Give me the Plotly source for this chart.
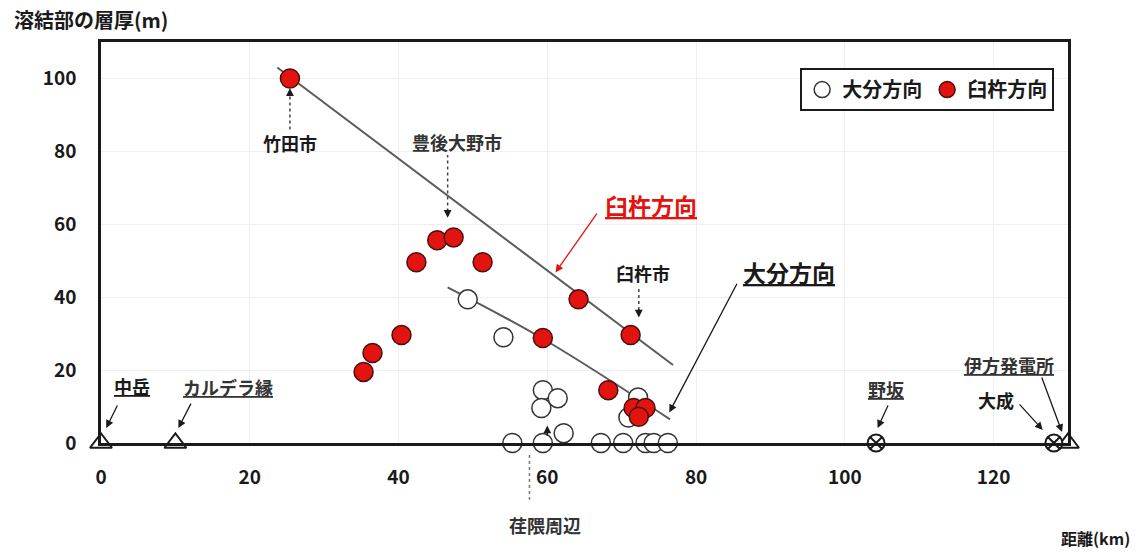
import plotly.graph_objects as go

# 大分方向 (open circles): distance from 中岳 (km) and welded-zone thickness (m)
oita_km = [49.3, 54.1, 59.4, 61.4, 59.2, 62.2, 72.2, 70.9, 55.3, 59.4, 67.2, 70.2, 73.2, 74.3, 76.2]
oita_m = [39.4, 29.0, 14.5, 12.3, 9.6, 2.7, 12.5, 7.0, 0, 0, 0, 0, 0, 0, 0]

# 臼杵方向 (red circles)
usuki_km = [25.4, 35.3, 36.5, 40.4, 42.4, 45.2, 47.4, 51.3, 59.4, 64.2, 71.2, 68.2, 71.6, 73.2, 72.3]
usuki_m = [100, 19.5, 24.7, 29.6, 49.6, 55.6, 56.4, 49.6, 28.8, 39.4, 29.6, 14.5, 9.6, 9.6, 7.2]

# trend lines for each direction
usuki_trend_km = [23.7, 76.9]
usuki_trend_m = [103.0, 21.4]
oita_trend_km = [46.6, 59.4, 76.5]
oita_trend_m = [42.7, 28.6, 6.5]

# reference sites on the baseline
caldera_km = [0, 10, 130]
site_km = [104.2, 128.1]

x_ticks = [0, 20, 40, 60, 80, 100, 120]
y_ticks = [0, 20, 40, 60, 80, 100]
X_MAX, Y_MAX = 130, 110

FONT = "Noto Sans CJK JP"
INK = "#1a1a1a"
RED = "#e3140f"
LINE_GRAY = "#5a5a5a"
LABEL_SIZE = 18

fig = go.Figure()

fig.add_trace(go.Scatter(x=usuki_trend_km, y=usuki_trend_m, mode="lines",
                         line=dict(color=LINE_GRAY, width=2), showlegend=False,
                         hoverinfo="skip"))
fig.add_trace(go.Scatter(x=oita_trend_km, y=oita_trend_m, mode="lines",
                         line=dict(color=LINE_GRAY, width=2, shape="spline"),
                         showlegend=False, hoverinfo="skip"))

fig.add_trace(go.Scatter(x=caldera_km, y=[0] * len(caldera_km), mode="markers",
                         marker=dict(symbol="triangle-up", size=19, color="white",
                                     line=dict(color=INK, width=2)),
                         cliponaxis=False, showlegend=False))
fig.add_trace(go.Scatter(x=site_km, y=[0] * len(site_km), mode="markers",
                         marker=dict(symbol="circle-x", size=17, color="white",
                                     line=dict(color=INK, width=2)),
                         cliponaxis=False, showlegend=False))

fig.add_trace(go.Scatter(x=oita_km, y=oita_m, mode="markers", name="大分方向",
                         marker=dict(symbol="circle", size=19, color="white",
                                     line=dict(color="#333333", width=1.5)),
                         cliponaxis=False))
fig.add_trace(go.Scatter(x=usuki_km, y=usuki_m, mode="markers", name="臼杵方向",
                         marker=dict(symbol="circle", size=19, color=RED,
                                     line=dict(color="#4a1010", width=1.5)),
                         cliponaxis=False))


def label(x, y, text, size=LABEL_SIZE, color=INK, xref="x", yref="y", xanchor="center"):
    fig.add_annotation(x=x, y=y, xref=xref, yref=yref, text=text, showarrow=False,
                       xanchor=xanchor, yanchor="middle",
                       font=dict(family=FONT, size=size, color=color, weight="bold"))


def arrow(x0, y0, x1, y1, color=INK, width=1.3, head=2, size=1.2):
    fig.add_annotation(x=x1, y=y1, ax=x0, ay=y0, xref="x", yref="y",
                       axref="x", ayref="y", text="", showarrow=True,
                       arrowhead=head, arrowsize=size, arrowwidth=width,
                       arrowcolor=color)


def dotted(x, y0, y1):
    fig.add_shape(type="line", x0=x, x1=x, y0=y0, y1=y1, xref="x", yref="y",
                  line=dict(color="#444444", width=1.5, dash="dot"))


# 竹田市
label(25.4, 82.2, "竹田市")
dotted(25.4, 86.0, 95.5)
arrow(25.4, 95.0, 25.4, 97.3)

# 豊後大野市
label(47.9, 82.5, "豊後大野市", color="#333333")
dotted(46.6, 63.5, 79.0)
arrow(46.6, 64.5, 46.6, 61.8)

# 臼杵市
label(72.9, 46.6, "臼杵市")
dotted(72.3, 36.5, 43.0)
arrow(72.3, 37.2, 72.3, 34.4)

# direction labels with arrows to their trend lines
label(73.9, 65.2, "<u>臼杵方向</u>", size=23, color=RED)
arrow(66.8, 63.3, 61.1, 46.8, color=RED, width=1.3)
label(92.5, 46.8, "<u>大分方向</u>", size=23)
arrow(85.6, 44.1, 76.4, 8.4)

# baseline sites
label(4.2, 15.6, "<u>中岳</u>")
arrow(2.3, 10.7, 0.7, 4.1)
label(17.1, 15.3, "<u>カルデラ縁</u>", color="#333333")
arrow(12.2, 11.2, 10.4, 4.1)
label(105.5, 14.8, "<u>野坂</u>", color="#333333")
arrow(105.9, 10.7, 104.4, 4.1)
label(120.3, 11.8, "大成")
arrow(123.3, 11.0, 126.6, 3.6)
label(122.1, 21.4, "<u>伊方発電所</u>", color="#333333")
arrow(126.4, 18.4, 129.2, 3.0)

# 荏隈周辺 (label below the axis)
label(0.459, -0.205, "荏隈周辺", color="#333333", xref="paper", yref="paper")
fig.add_shape(type="line", xref="x domain", yref="y domain",
              x0=57.6 / X_MAX, x1=57.6 / X_MAX, y0=-3.3 / Y_MAX, y1=-15.6 / Y_MAX,
              line=dict(color="#777777", width=1.5, dash="dot"))
arrow(60.0, 1.5, 60.0, 4.8)

# axis titles
label(-0.0105, 1.055, "溶結部の層厚(m)", size=20, xref="paper", yref="paper")
label(1.066, -0.238, "距離(km)", size=16, xref="paper", yref="paper", xanchor="right")

fig.update_xaxes(range=[0, X_MAX], tickvals=x_ticks, showgrid=True, gridcolor="#efefef",
                 showline=True, linecolor=INK, linewidth=3, mirror=True, zeroline=False,
                 ticks="", ticklabelstandoff=15,
                 tickfont=dict(family=FONT, size=19, color=INK, weight="bold"))
fig.update_yaxes(range=[0, Y_MAX], tickvals=y_ticks, showgrid=True, gridcolor="#efefef",
                 showline=True, linecolor=INK, linewidth=2.5, mirror=True, zeroline=False,
                 ticks="", ticklabelstandoff=18,
                 tickfont=dict(family=FONT, size=19, color=INK, weight="bold"))

fig.update_layout(
    width=1144, height=553,
    margin=dict(l=101, r=76, t=42, b=110),
    paper_bgcolor="white", plot_bgcolor="white",
    font=dict(family=FONT, color=INK),
    legend=dict(orientation="h", x=0.723, y=0.935, xanchor="left", yanchor="top",
                bordercolor=INK, borderwidth=2, bgcolor="white",
                font=dict(family=FONT, size=20, color=INK, weight="bold"),
                itemwidth=30),
)

fig.write_html("out.html")
